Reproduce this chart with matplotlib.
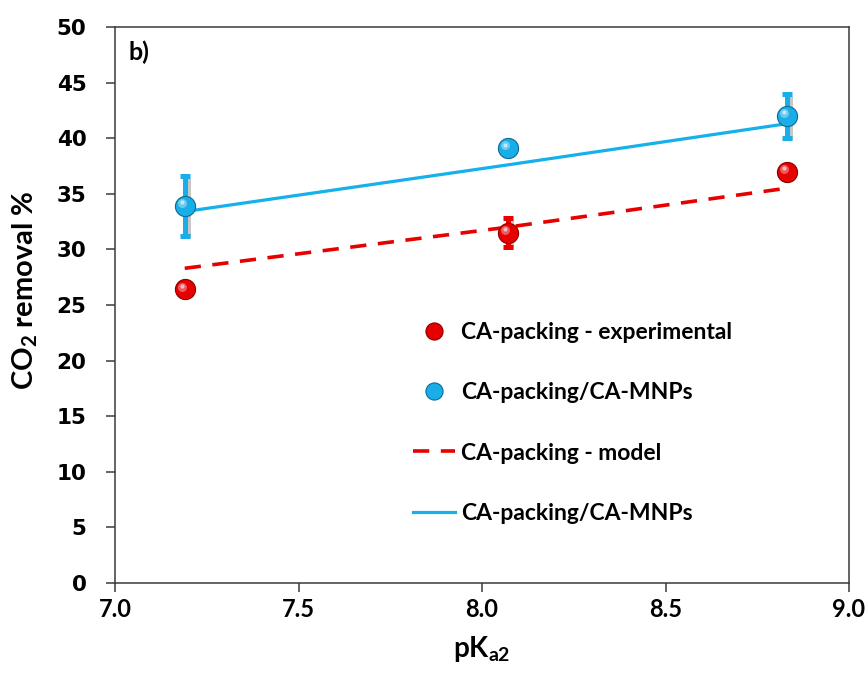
import matplotlib
matplotlib.use("Agg")
import matplotlib.pyplot as plt
import matplotlib.transforms as mtransforms
import numpy as np

# ---- data ----
pka2 = [7.19, 8.07, 8.83]
exp_removal = [26.4, 31.5, 37.0]
exp_err = [0.0, 1.3, 0.0]
mnp_removal = [33.9, 39.1, 42.0]
mnp_err = [2.7, 0.0, 2.0]
model_removal = [28.3, 32.0, 35.5]
mnp_fit = [33.4, 37.6, 41.3]

xticks = [7.0, 7.5, 8.0, 8.5, 9.0]
yticks = [0, 5, 10, 15, 20, 25, 30, 35, 40, 45, 50]

labels = ["CA-packing - experimental", "CA-packing/CA-MNPs",
          "CA-packing - model", "CA-packing/CA-MNPs"]

plt.rcParams['mathtext.fontset'] = 'custom'
plt.rcParams['mathtext.rm'] = 'Lato:bold'
plt.rcParams['mathtext.bf'] = 'Lato:bold'
plt.rcParams['mathtext.it'] = 'Lato:bold:italic'

RED = '#e60000'
RED_DARK = '#8a0000'
BLUE = '#1aaee8'
BLUE_LINE = '#16b0ea'
BLUE_DARK = '#0a6a98'
SPINE = '#3a3a3a'

fig = plt.figure(figsize=(8.67, 6.75), dpi=100)
ax = fig.add_axes([115/867, 1-583/675, (849-115)/867, (583-27)/675])

# model lines
ax.plot(pka2, model_removal, color=RED, lw=2.6, ls=(0, (4.5, 3.2)),
        label=labels[2], zorder=3)
ax.plot(pka2, mnp_fit, color=BLUE_LINE, lw=2.3, ls='-', label=labels[3], zorder=3)

# error bars with shadow
shadow = mtransforms.offset_copy(ax.transData, fig=fig, x=2.5, y=-1.5, units='points')
for xs, ys, es, col in [(pka2, mnp_removal, mnp_err, BLUE), (pka2, exp_removal, exp_err, RED)]:
    for x, y, e in zip(xs, ys, es):
        if e <= 0:
            continue
        ax.plot([x, x], [y - e, y + e], color='#b0b0b0', lw=3.6, alpha=0.7,
                transform=shadow, zorder=2, solid_capstyle='butt')
    ax.errorbar(xs, ys, yerr=es, fmt='none', ecolor=col, elinewidth=3.6,
                capsize=3.5, capthick=3.6, zorder=4)

# spheres
def spheres(xs, ys, base, dark, label):
    ax.plot(xs, ys, 'o', ms=14.5, mfc=base, mec=dark, mew=0.8, label=label,
            zorder=5, ls='none')
    hl = mtransforms.offset_copy(ax.transData, fig=fig, x=-1.8, y=2.0, units='points')
    ax.plot(xs, ys, 'o', ms=6.5, mfc='white', mec='none', alpha=0.35,
            transform=hl, zorder=6, ls='none')
    hl2 = mtransforms.offset_copy(ax.transData, fig=fig, x=-2.2, y=2.6, units='points')
    ax.plot(xs, ys, 'o', ms=3.0, mfc='white', mec='none', alpha=0.6,
            transform=hl2, zorder=7, ls='none')

spheres(pka2, exp_removal, RED, RED_DARK, labels[0])
spheres(pka2, mnp_removal, BLUE, BLUE_DARK, labels[1])

ax.set_xlim(7.0, 9.0)
ax.set_ylim(0, 50)
ax.set_xticks(xticks)
ax.set_xticklabels([f"{v:.1f}" for v in xticks], fontfamily='Lato',
                   fontweight='bold', fontsize=17)
ax.set_yticks(yticks)
ax.set_yticklabels([str(v) for v in yticks], fontfamily='DejaVu Sans',
                   fontweight='bold', fontsize=15.5)
ax.tick_params(axis='y', direction='out', length=6.5, width=1.1, color=SPINE, pad=14)
ax.tick_params(axis='x', direction='out', length=6.5, width=1.1, color=SPINE, pad=4)
for s in ax.spines.values():
    s.set_color(SPINE)
    s.set_linewidth(1.1)

ax.set_xlabel(r"pK$_{\mathrm{a2}}$", fontfamily='Lato', fontweight='bold',
              fontsize=20, labelpad=10)
ax.set_ylabel(r"CO$_{\mathrm{2}}$ removal %", fontfamily='Lato', fontweight='bold',
              fontsize=21)
ax.yaxis.set_label_coords(-0.102, 0.527)

ax.text(0.018, 0.975, "b)", transform=ax.transAxes, fontfamily='Lato',
        fontweight='bold', fontsize=18, va='top', ha='left')

handles, labs = ax.get_legend_handles_labels()
h_exp = handles[labs.index(labels[0])]
h_mnp = [h for h, l in zip(handles, labs) if l == labels[1] and h.get_marker() == 'o'][0]
h_mod = handles[labs.index(labels[2])]
h_fit = [h for h, l in zip(handles, labs) if l == labels[3] and h.get_marker() != 'o'][0]
leg = ax.legend([h_exp, h_mnp, h_mod, h_fit], labels, loc='upper left',
                bbox_to_anchor=(0.406, 0.47), frameon=False,
                prop={'family': 'Lato', 'weight': 'bold', 'size': 16.5},
                handlelength=1.85, handletextpad=0.25, labelspacing=1.72,
                borderpad=0, borderaxespad=0, markerscale=0.85)

fig.savefig("out.png", dpi=100)
